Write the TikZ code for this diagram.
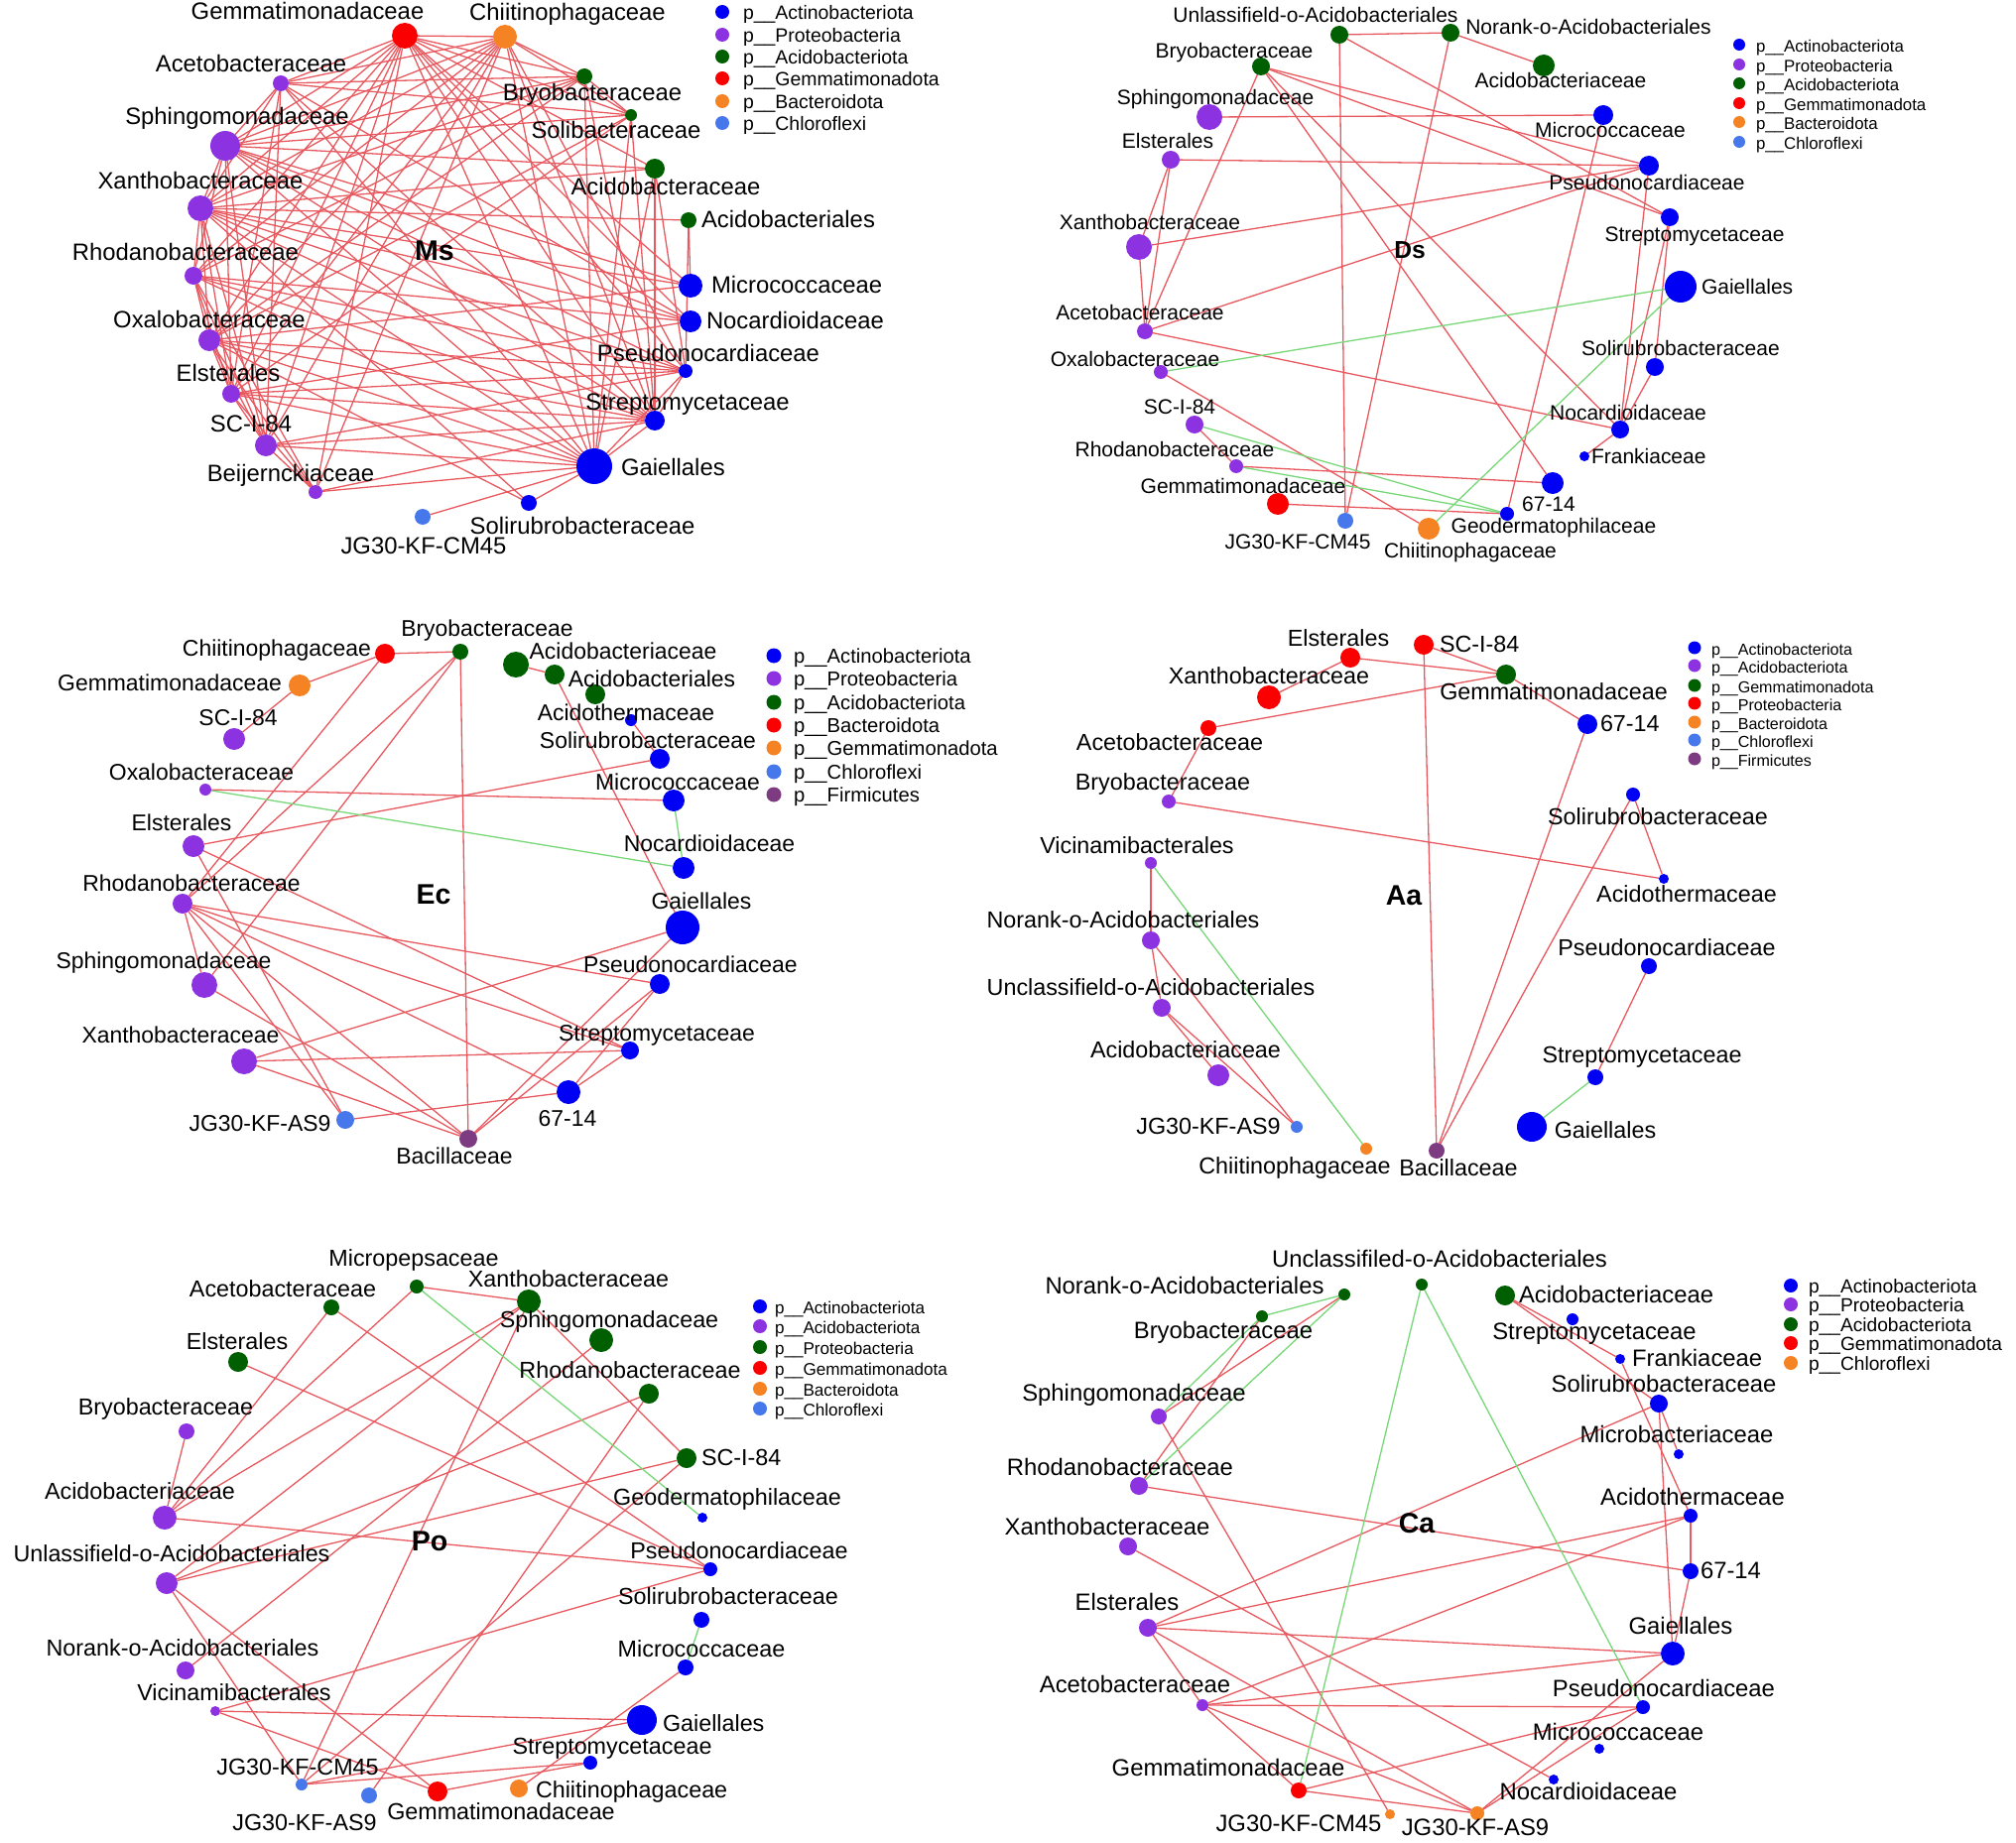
\documentclass[tikz,border=0pt]{standalone}
\usepackage{fontspec}
\setmainfont{Liberation Sans}
\pgfdeclarelayer{edges}
\pgfsetlayers{edges,main}
\definecolor{cAct}{RGB}{0,0,245}
\definecolor{cPro}{RGB}{140,50,225}
\definecolor{cAcd}{RGB}{0,95,0}
\definecolor{cGem}{RGB}{250,0,0}
\definecolor{cBac}{RGB}{245,130,35}
\definecolor{cChl}{RGB}{70,120,235}
\definecolor{cFir}{RGB}{125,60,130}
\definecolor{eRed}{RGB}{232,88,95}
\definecolor{eGrn}{RGB}{120,215,120}
\tikzset{
 nd/.style={circle, inner sep=0pt, outer sep=0pt, draw=none},
 rad/.style={minimum size=#1*0.771654pt},
 er/.style={draw=eRed, line width=0.5pt},
 eg/.style={draw=eGrn, line width=0.5pt},
 lbl/.style={inner sep=0pt, outer sep=0pt, text height=0.6em, text depth=0pt},
 fMs/.style={lbl, font=\fontsize{9.2}{11}\selectfont},
 fDs/.style={lbl, font=\fontsize{8.1}{10}\selectfont},
 fEc/.style={lbl, font=\fontsize{8.85}{10}\selectfont},
 fAa/.style={lbl, font=\fontsize{9.0}{10}\selectfont},
 fPo/.style={lbl, font=\fontsize{9.0}{10}\selectfont},
 fCa/.style={lbl, font=\fontsize{9.2}{11}\selectfont},
 gMs/.style={lbl, font=\fontsize{7.5}{9}\selectfont},
 gDs/.style={lbl, font=\fontsize{6.5}{8}\selectfont},
 gEc/.style={lbl, font=\fontsize{7.8}{9}\selectfont},
 gAa/.style={lbl, font=\fontsize{6.2}{8}\selectfont},
 gPo/.style={lbl, font=\fontsize{6.6}{8}\selectfont},
 gCa/.style={lbl, font=\fontsize{7.4}{9}\selectfont},
 ttl/.style={lbl, font=\fontsize{11}{13}\selectfont\bfseries},
}
\newcommand{\nn}[5]{\node[nd,fill=#4,rad=#5] (#1) at (#2,#3) {};}
\newcommand{\legitem}[8]{\node[nd,fill=#4,rad=#5] (#1) at (#2,#3) {};\node[#7,anchor=west] (#1-t) at (#6,#3) {#8};}
\begin{document}
\begin{tikzpicture}[x=0.385827pt, y=-0.385827pt]
\useasboundingbox (0,0) rectangle (2032,1858);
\begin{pgfonlayer}{edges}
\fill[white] (0,0) rectangle (2032,1858);
\end{pgfonlayer}

% ================= Ms =================
\nn{ms-gem}{408}{36}{cGem}{13}
\nn{ms-chi}{509}{37}{cBac}{12}
\nn{ms-ace}{283}{84}{cPro}{8}
\nn{ms-sph}{227}{147}{cPro}{15}
\nn{ms-xan}{202}{210}{cPro}{13}
\nn{ms-rho}{195}{278}{cPro}{9}
\nn{ms-oxa}{211}{343}{cPro}{11}
\nn{ms-els}{233}{397}{cPro}{9}
\nn{ms-sci}{268}{449}{cPro}{11}
\nn{ms-bei}{318}{496}{cPro}{7}
\nn{ms-jg}{426}{521}{cChl}{8}
\nn{ms-sol}{533}{507}{cAct}{8}
\nn{ms-gai}{599}{470}{cAct}{18}
\nn{ms-str}{660}{424}{cAct}{10}
\nn{ms-pse}{691}{374}{cAct}{7}
\nn{ms-noc}{696}{324}{cAct}{11}
\nn{ms-mic}{696}{288}{cAct}{12}
\nn{ms-acl}{694}{222}{cAcd}{8}
\nn{ms-acd}{660}{170}{cAcd}{10}
\nn{ms-slb}{636}{116}{cAcd}{6}
\nn{ms-bry}{589}{77}{cAcd}{8}
\node[fMs] (ms-gem-l) at (310,12) {Gemmatimonadaceae};
\node[fMs] (ms-chi-l) at (572,13) {Chiitinophagaceae};
\node[fMs] (ms-ace-l) at (253,65) {Acetobacteraceae};
\node[fMs] (ms-sph-l) at (239,118) {Sphingomonadaceae};
\node[fMs] (ms-xan-l) at (202,183) {Xanthobacteraceae};
\node[fMs] (ms-rho-l) at (187,255) {Rhodanobacteraceae};
\node[fMs] (ms-oxa-l) at (211,323) {Oxalobacteraceae};
\node[fMs] (ms-els-l) at (230,377) {Elsterales};
\node[fMs] (ms-sci-l) at (253,428) {SC-I-84};
\node[fMs] (ms-bei-l) at (293,478) {Beijernckiaceae};
\node[fMs] (ms-jg-l) at (427,551) {JG30-KF-CM45};
\node[fMs] (ms-sol-l) at (587,531) {Solirubrobacteraceae};
\node[fMs,anchor=west] (ms-gai-l) at (626,472) {Gaiellales};
\node[fMs] (ms-str-l) at (693,406) {Streptomycetaceae};
\node[fMs] (ms-pse-l) at (714,357) {Pseudonocardiaceae};
\node[fMs,anchor=west] (ms-noc-l) at (712,324) {Nocardioidaceae};
\node[fMs,anchor=west] (ms-mic-l) at (717,288) {Micrococcaceae};
\node[fMs,anchor=west] (ms-acl-l) at (707,222) {Acidobacteriales};
\node[fMs] (ms-acd-l) at (671,189) {Acidobacteraceae};
\node[fMs] (ms-slb-l) at (621,132) {Solibacteraceae};
\node[fMs] (ms-bry-l) at (597,94) {Bryobacteraceae};
\node[ttl] (ms-t) at (438,255) {Ms};
\legitem{ms-g1}{728}{12}{cAct}{7}{749}{gMs}{p\_\_Actinobacteriota}
\legitem{ms-g2}{728}{35}{cPro}{7}{749}{gMs}{p\_\_Proteobacteria}
\legitem{ms-g3}{728}{57}{cAcd}{7}{749}{gMs}{p\_\_Acidobacteriota}
\legitem{ms-g4}{728}{79}{cGem}{7}{749}{gMs}{p\_\_Gemmatimonadota}
\legitem{ms-g5}{728}{102}{cBac}{7}{749}{gMs}{p\_\_Bacteroidota}
\legitem{ms-g6}{728}{124}{cChl}{7}{749}{gMs}{p\_\_Chloroflexi}
\begin{pgfonlayer}{edges}
\foreach \a/\b in {gem/ace,gem/sph,gem/xan,gem/rho,gem/oxa,gem/els,gem/sci,gem/bei,gem/chi,gem/bry,gem/slb,gem/acd,gem/gai,gem/str,gem/pse,gem/noc,gem/mic,
 chi/ace,chi/sph,chi/xan,chi/rho,chi/oxa,chi/els,chi/sci,chi/bei,chi/bry,chi/slb,chi/gai,chi/str,chi/pse,
 ace/sph,ace/xan,ace/bry,ace/slb,ace/gai,ace/str,ace/noc,ace/els,ace/sci,
 sph/xan,sph/rho,sph/bry,sph/slb,sph/acd,sph/gai,sph/str,sph/pse,sph/noc,sph/mic,sph/els,sph/sci,
 xan/rho,xan/oxa,xan/els,xan/sci,xan/bry,xan/acd,xan/acl,xan/gai,xan/str,xan/pse,xan/noc,xan/mic,xan/sol,
 rho/oxa,rho/els,rho/sci,rho/bei,rho/bry,rho/gai,rho/str,rho/pse,rho/noc,
 oxa/els,oxa/sci,oxa/bei,oxa/bry,oxa/slb,oxa/gai,oxa/str,oxa/pse,oxa/mic,oxa/sol,
 els/sci,els/bei,els/gai,els/str,els/pse,els/noc,els/slb,
 sci/bei,sci/gai,sci/str,sci/pse,bei/gai,bei/str,jg/gai,sol/gai,
 gai/str,gai/pse,gai/bry,gai/slb,gai/acd,str/pse,str/bry,str/slb,str/acd,pse/acd,pse/acl,mic/acl,bry/slb}
 \draw[er] (ms-\a) -- (ms-\b);
\end{pgfonlayer}

% ================= Ds =================
\nn{ds-unl}{1350}{35}{cAcd}{9}
\nn{ds-nor}{1462}{33}{cAcd}{9}
\nn{ds-bry}{1271}{67}{cAcd}{9}
\nn{ds-aci}{1556}{66}{cAcd}{11}
\nn{ds-sph}{1219}{118}{cPro}{13}
\nn{ds-mic}{1616}{116}{cAct}{10}
\nn{ds-els}{1180}{161}{cPro}{9}
\nn{ds-pse}{1662}{167}{cAct}{10}
\nn{ds-str}{1683}{219}{cAct}{9}
\nn{ds-xan}{1148}{249}{cPro}{13}
\nn{ds-gai}{1694}{289}{cAct}{16}
\nn{ds-ace}{1154}{334}{cPro}{8}
\nn{ds-oxa}{1170}{375}{cPro}{7}
\nn{ds-sol}{1668}{370}{cAct}{9}
\nn{ds-sci}{1204}{428}{cPro}{9}
\nn{ds-noc}{1633}{433}{cAct}{9}
\nn{ds-rho}{1246}{470}{cPro}{7}
\nn{ds-fra}{1597}{460}{cAct}{5}
\nn{ds-gem}{1288}{508}{cGem}{11}
\nn{ds-67}{1565}{487}{cAct}{11}
\nn{ds-jg}{1356}{525}{cChl}{8}
\nn{ds-chi}{1440}{533}{cBac}{11}
\nn{ds-geo}{1519}{518}{cAct}{7}
\node[fDs] (ds-unl-l) at (1326,15) {Unlassifield-o-Acidobacteriales};
\node[fDs] (ds-nor-l) at (1601,27) {Norank-o-Acidobacteriales};
\node[fDs] (ds-bry-l) at (1244,51) {Bryobacteraceae};
\node[fDs] (ds-aci-l) at (1573,81) {Acidobacteriaceae};
\node[fDs] (ds-sph-l) at (1225,98) {Sphingomonadaceae};
\node[fDs] (ds-mic-l) at (1623,131) {Micrococcaceae};
\node[fDs] (ds-els-l) at (1177,142) {Elsterales};
\node[fDs] (ds-pse-l) at (1660,184) {Pseudonocardiaceae};
\node[fDs] (ds-str-l) at (1708,236) {Streptomycetaceae};
\node[fDs] (ds-xan-l) at (1159,224) {Xanthobacteraceae};
\node[fDs,anchor=west] (ds-gai-l) at (1715,289) {Gaiellales};
\node[fDs] (ds-ace-l) at (1149,315) {Acetobacteraceae};
\node[fDs] (ds-oxa-l) at (1144,362) {Oxalobacteraceae};
\node[fDs] (ds-sol-l) at (1694,351) {Solirubrobacteraceae};
\node[fDs] (ds-sci-l) at (1189,410) {SC-I-84};
\node[fDs] (ds-noc-l) at (1641,416) {Nocardioidaceae};
\node[fDs] (ds-rho-l) at (1184,453) {Rhodanobacteraceae};
\node[fDs,anchor=west] (ds-fra-l) at (1604,460) {Frankiaceae};
\node[fDs] (ds-gem-l) at (1253,490) {Gemmatimonadaceae};
\node[fDs] (ds-67-l) at (1561,508) {67-14};
\node[fDs] (ds-jg-l) at (1308,546) {JG30-KF-CM45};
\node[fDs] (ds-chi-l) at (1482,555) {Chiitinophagaceae};
\node[fDs] (ds-geo-l) at (1566,530) {Geodermatophilaceae};
\node[ttl,font=\fontsize{9.5}{11}\selectfont\bfseries] (ds-t) at (1421,253) {Ds};
\legitem{ds-g1}{1753}{45}{cAct}{6}{1770}{gDs}{p\_\_Actinobacteriota}
\legitem{ds-g2}{1753}{65}{cPro}{6}{1770}{gDs}{p\_\_Proteobacteria}
\legitem{ds-g3}{1753}{84}{cAcd}{6}{1770}{gDs}{p\_\_Acidobacteriota}
\legitem{ds-g4}{1753}{104}{cGem}{6}{1770}{gDs}{p\_\_Gemmatimonadota}
\legitem{ds-g5}{1753}{123}{cBac}{6}{1770}{gDs}{p\_\_Bacteroidota}
\legitem{ds-g6}{1753}{143}{cChl}{6}{1770}{gDs}{p\_\_Chloroflexi}
\begin{pgfonlayer}{edges}
\foreach \a/\b in {unl/nor,unl/jg,unl/str,nor/aci,nor/jg,bry/ace,bry/pse,bry/str,bry/noc,bry/67,sph/mic,els/pse,els/xan,els/ace,xan/ace,xan/pse,ace/pse,ace/noc,oxa/chi,sci/rho,rho/67,gem/geo,mic/geo,pse/noc,str/noc,str/sol,sol/noc,noc/fra}
 \draw[er] (ds-\a) -- (ds-\b);
\foreach \a/\b in {oxa/gai,sci/geo,rho/geo,chi/gai}
 \draw[eg] (ds-\a) -- (ds-\b);
\end{pgfonlayer}

% ================= Ec =================
\nn{ec-chi}{388}{659}{cGem}{10}
\nn{ec-bry}{464}{657}{cAcd}{8}
\nn{ec-gem}{302}{691}{cBac}{11}
\nn{ec-sci}{236}{745}{cPro}{11}
\nn{ec-oxa}{207}{796}{cPro}{6}
\nn{ec-els}{195}{853}{cPro}{11}
\nn{ec-rho}{184}{911}{cPro}{10}
\nn{ec-sph}{206}{993}{cPro}{13}
\nn{ec-xan}{246}{1070}{cPro}{13}
\nn{ec-jg}{348}{1129}{cChl}{9}
\nn{ec-bac}{472}{1148}{cFir}{9}
\nn{ec-acd}{520}{670}{cAcd}{13}
\nn{ec-acl}{559}{680}{cAcd}{10}
\nn{ec-ac3}{600}{700}{cAcd}{10}
\nn{ec-act}{636}{726}{cAct}{6}
\nn{ec-sol}{665}{765}{cAct}{10}
\nn{ec-mic}{679}{807}{cAct}{11}
\nn{ec-noc}{689}{875}{cAct}{11}
\nn{ec-gai}{688}{935}{cAct}{17}
\nn{ec-pse}{665}{992}{cAct}{10}
\nn{ec-str}{635}{1059}{cAct}{9}
\nn{ec-67}{573}{1101}{cAct}{12}
\node[fEc] (ec-chi-l) at (279,654) {Chiitinophagaceae};
\node[fEc] (ec-bry-l) at (491,634) {Bryobacteraceae};
\node[fEc] (ec-gem-l) at (171,689) {Gemmatimonadaceae};
\node[fEc] (ec-sci-l) at (240,724) {SC-I-84};
\node[fEc] (ec-oxa-l) at (203,779) {Oxalobacteraceae};
\node[fEc] (ec-els-l) at (183,830) {Elsterales};
\node[fEc] (ec-rho-l) at (193,891) {Rhodanobacteraceae};
\node[fEc] (ec-sph-l) at (165,969) {Sphingomonadaceae};
\node[fEc] (ec-xan-l) at (182,1044) {Xanthobacteraceae};
\node[fEc] (ec-jg-l) at (262,1133) {JG30-KF-AS9};
\node[fEc] (ec-bac-l) at (458,1166) {Bacillaceae};
\node[fEc] (ec-acd-l) at (628,657) {Acidobacteriaceae};
\node[fEc] (ec-acl-l) at (657,685) {Acidobacteriales};
\node[fEc] (ec-act-l) at (631,719) {Acidothermaceae};
\node[fEc] (ec-sol-l) at (653,747) {Solirubrobacteraceae};
\node[fEc] (ec-mic-l) at (683,789) {Micrococcaceae};
\node[fEc] (ec-noc-l) at (715,851) {Nocardioidaceae};
\node[fEc] (ec-gai-l) at (707,909) {Gaiellales};
\node[fEc] (ec-pse-l) at (696,973) {Pseudonocardiaceae};
\node[fEc] (ec-str-l) at (662,1042) {Streptomycetaceae};
\node[fEc] (ec-67-l) at (572,1128) {67-14};
\node[ttl] (ec-t) at (437,904) {Ec};
\legitem{ec-g1}{780}{661}{cAct}{7.5}{800}{gEc}{p\_\_Actinobacteriota}
\legitem{ec-g2}{780}{684}{cPro}{7.5}{800}{gEc}{p\_\_Proteobacteria}
\legitem{ec-g3}{780}{708}{cAcd}{7.5}{800}{gEc}{p\_\_Acidobacteriota}
\legitem{ec-g4}{780}{731}{cGem}{7.5}{800}{gEc}{p\_\_Bacteroidota}
\legitem{ec-g5}{780}{754}{cBac}{7.5}{800}{gEc}{p\_\_Gemmatimonadota}
\legitem{ec-g6}{780}{778}{cChl}{7.5}{800}{gEc}{p\_\_Chloroflexi}
\legitem{ec-g7}{780}{801}{cFir}{7.5}{800}{gEc}{p\_\_Firmicutes}
\begin{pgfonlayer}{edges}
\foreach \a/\b in {chi/bry,chi/gem,gem/sci,chi/rho,bry/rho,bry/sph,bry/bac,oxa/mic,els/sol,acl/gai,acd/acl,act/sol,els/str,els/jg,rho/pse,rho/str,rho/67,rho/bac,rho/jg,rho/sph,sph/bac,xan/str,xan/gai,xan/bac,jg/67,bac/pse,bac/gai,67/str,67/pse}
 \draw[er] (ec-\a) -- (ec-\b);
\foreach \a/\b in {oxa/noc,mic/noc}
 \draw[eg] (ec-\a) -- (ec-\b);
\end{pgfonlayer}

% ================= Aa =================
\nn{aa-els}{1361}{663}{cGem}{10}
\nn{aa-sci}{1435}{650}{cGem}{10}
\nn{aa-gem}{1518}{680}{cAcd}{10}
\nn{aa-xan}{1279}{703}{cGem}{12}
\nn{aa-ace}{1218}{734}{cGem}{8}
\nn{aa-67}{1600}{730}{cAct}{10}
\nn{aa-bry}{1178}{808}{cPro}{7}
\nn{aa-sol}{1646}{801}{cAct}{7}
\nn{aa-vic}{1160}{870}{cPro}{6}
\nn{aa-act}{1677}{886}{cAct}{5}
\nn{aa-nor}{1160}{948}{cPro}{9}
\nn{aa-pse}{1662}{974}{cAct}{8}
\nn{aa-unl}{1171}{1016}{cPro}{9}
\nn{aa-acd}{1228}{1084}{cPro}{11}
\nn{aa-str}{1608}{1086}{cAct}{8}
\nn{aa-jg}{1307}{1136}{cChl}{6}
\nn{aa-gai}{1544}{1136}{cAct}{15}
\nn{aa-chi}{1377}{1158}{cBac}{6}
\nn{aa-bac}{1448}{1160}{cFir}{8}
\node[fAa] (aa-els-l) at (1349,644) {Elsterales};
\node[fAa,anchor=west] (aa-sci-l) at (1451,650) {SC-I-84};
\node[fAa] (aa-gem-l) at (1566,698) {Gemmatimonadaceae};
\node[fAa] (aa-xan-l) at (1279,682) {Xanthobacteraceae};
\node[fAa] (aa-ace-l) at (1179,749) {Acetobacteraceae};
\node[fAa,anchor=west] (aa-67-l) at (1613,730) {67-14};
\node[fAa] (aa-bry-l) at (1172,789) {Bryobacteraceae};
\node[fAa] (aa-sol-l) at (1671,824) {Solirubrobacteraceae};
\node[fAa] (aa-vic-l) at (1146,853) {Vicinamibacterales};
\node[fAa] (aa-act-l) at (1700,902) {Acidothermaceae};
\node[fAa] (aa-nor-l) at (1132,928) {Norank-o-Acidobacteriales};
\node[fAa] (aa-pse-l) at (1680,956) {Pseudonocardiaceae};
\node[fAa] (aa-unl-l) at (1160,996) {Unclassifield-o-Acidobacteriales};
\node[fAa] (aa-acd-l) at (1195,1059) {Acidobacteriaceae};
\node[fAa] (aa-str-l) at (1655,1064) {Streptomycetaceae};
\node[fAa] (aa-jg-l) at (1218,1136) {JG30-KF-AS9};
\node[fAa] (aa-gai-l) at (1618,1140) {Gaiellales};
\node[fAa] (aa-chi-l) at (1305,1176) {Chiitinophagaceae};
\node[fAa] (aa-bac-l) at (1470,1178) {Bacillaceae};
\node[ttl] (aa-t) at (1415,905) {Aa};
\legitem{aa-g1}{1708}{653}{cAct}{6.5}{1725}{gAa}{p\_\_Actinobacteriota}
\legitem{aa-g2}{1708}{671}{cPro}{6.5}{1725}{gAa}{p\_\_Acidobacteriota}
\legitem{aa-g3}{1708}{691}{cAcd}{6.5}{1725}{gAa}{p\_\_Gemmatimonadota}
\legitem{aa-g4}{1708}{709}{cGem}{6.5}{1725}{gAa}{p\_\_Proteobacteria}
\legitem{aa-g5}{1708}{728}{cBac}{6.5}{1725}{gAa}{p\_\_Bacteroidota}
\legitem{aa-g6}{1708}{746}{cChl}{6.5}{1725}{gAa}{p\_\_Chloroflexi}
\legitem{aa-g7}{1708}{765}{cFir}{6.5}{1725}{gAa}{p\_\_Firmicutes}
\begin{pgfonlayer}{edges}
\foreach \a/\b in {els/xan,els/gem,sci/gem,sci/bac,gem/ace,gem/67,ace/bry,bry/act,act/sol,sol/bac,67/bac,pse/str,vic/nor,nor/unl,nor/jg,unl/acd,unl/jg}
 \draw[er] (aa-\a) -- (aa-\b);
\foreach \a/\b in {str/gai,vic/chi}
 \draw[eg] (aa-\a) -- (aa-\b);
\end{pgfonlayer}

% ================= Po =================
\nn{po-mpp}{420}{1297}{cAcd}{7}
\nn{po-ace}{334}{1318}{cAcd}{8}
\nn{po-xan}{533}{1312}{cAcd}{12}
\nn{po-sph}{606}{1351}{cAcd}{12}
\nn{po-els}{240}{1373}{cAcd}{10}
\nn{po-rho}{654}{1405}{cAcd}{10}
\nn{po-bry}{188}{1443}{cPro}{8}
\nn{po-sci}{692}{1470}{cAcd}{10}
\nn{po-acd}{166}{1530}{cPro}{12}
\nn{po-geo}{708}{1530}{cAct}{5}
\nn{po-unl}{168}{1596}{cPro}{11}
\nn{po-pse}{716}{1582}{cAct}{7}
\nn{po-sol}{707}{1633}{cAct}{8}
\nn{po-nor}{187}{1684}{cPro}{9}
\nn{po-mic}{691}{1681}{cAct}{8}
\nn{po-vic}{217}{1725}{cPro}{5}
\nn{po-gai}{647}{1734}{cAct}{15}
\nn{po-str}{595}{1777}{cAct}{7}
\nn{po-jgc}{304}{1799}{cChl}{6}
\nn{po-jga}{372}{1810}{cChl}{8}
\nn{po-gem}{441}{1806}{cGem}{10}
\nn{po-chi}{523}{1803}{cBac}{9}
\node[fPo] (po-mpp-l) at (417,1269) {Micropepsaceae};
\node[fPo] (po-ace-l) at (285,1300) {Acetobacteraceae};
\node[fPo] (po-xan-l) at (573,1290) {Xanthobacteraceae};
\node[fPo] (po-sph-l) at (614,1331) {Sphingomonadaceae};
\node[fPo] (po-els-l) at (239,1353) {Elsterales};
\node[fPo] (po-rho-l) at (635,1382) {Rhodanobacteraceae};
\node[fPo] (po-bry-l) at (167,1419) {Bryobacteraceae};
\node[fPo,anchor=west] (po-sci-l) at (707,1470) {SC-I-84};
\node[fPo] (po-acd-l) at (141,1504) {Acidobacteriaceae};
\node[fPo] (po-geo-l) at (733,1510) {Geodermatophilaceae};
\node[fPo] (po-unl-l) at (173,1567) {Unlassifield-o-Acidobacteriales};
\node[fPo] (po-pse-l) at (745,1564) {Pseudonocardiaceae};
\node[fPo] (po-sol-l) at (734,1610) {Solirubrobacteraceae};
\node[fPo] (po-nor-l) at (184,1662) {Norank-o-Acidobacteriales};
\node[fPo] (po-mic-l) at (707,1663) {Micrococcaceae};
\node[fPo] (po-vic-l) at (236,1707) {Vicinamibacterales};
\node[fPo,anchor=west] (po-gai-l) at (668,1738) {Gaiellales};
\node[fPo] (po-str-l) at (617,1761) {Streptomycetaceae};
\node[fPo] (po-jgc-l) at (300,1782) {JG30-KF-CM45};
\node[fPo] (po-jga-l) at (307,1838) {JG30-KF-AS9};
\node[fPo] (po-gem-l) at (505,1827) {Gemmatimonadaceae};
\node[fPo,anchor=west] (po-chi-l) at (540,1805) {Chiitinophagaceae};
\node[ttl] (po-t) at (433,1556) {Po};
\legitem{po-g1}{766}{1317}{cAct}{7}{781}{gPo}{p\_\_Actinobacteriota}
\legitem{po-g2}{766}{1337}{cPro}{7}{781}{gPo}{p\_\_Acidobacteriota}
\legitem{po-g3}{766}{1358}{cAcd}{7}{781}{gPo}{p\_\_Proteobacteria}
\legitem{po-g4}{766}{1379}{cGem}{7}{781}{gPo}{p\_\_Gemmatimonadota}
\legitem{po-g5}{766}{1400}{cBac}{7}{781}{gPo}{p\_\_Bacteroidota}
\legitem{po-g6}{766}{1420}{cChl}{7}{781}{gPo}{p\_\_Chloroflexi}
\begin{pgfonlayer}{edges}
\foreach \a/\b in {mpp/xan,mpp/acd,ace/acd,ace/pse,els/pse,bry/acd,acd/pse,acd/xan,unl/rho,unl/sci,unl/jgc,unl/gem,unl/xan,nor/sph,vic/gai,vic/gem,vic/pse,jgc/gai,jgc/str,jgc/xan,jgc/sci,jga/rho,xan/sci,chi/mic,gem/str}
 \draw[er] (po-\a) -- (po-\b);
\foreach \a/\b in {mpp/geo,sol/mic}
 \draw[eg] (po-\a) -- (po-\b);
\end{pgfonlayer}

% ================= Ca =================
\nn{ca-unc}{1433}{1295}{cAcd}{6}
\nn{ca-nor}{1355}{1305}{cAcd}{6}
\nn{ca-acd}{1517}{1306}{cAcd}{10}
\nn{ca-bry}{1272}{1327}{cAcd}{6}
\nn{ca-str}{1585}{1330}{cAct}{6}
\nn{ca-fra}{1633}{1370}{cAct}{5}
\nn{ca-sph}{1168}{1428}{cPro}{8}
\nn{ca-sol}{1672}{1415}{cAct}{9}
\nn{ca-mcb}{1692}{1466}{cAct}{5}
\nn{ca-rho}{1148}{1498}{cPro}{9}
\nn{ca-xan}{1137}{1559}{cPro}{9}
\nn{ca-act}{1704}{1528}{cAct}{7}
\nn{ca-67}{1704}{1584}{cAct}{8}
\nn{ca-els}{1157}{1641}{cPro}{9}
\nn{ca-gai}{1686}{1667}{cAct}{12}
\nn{ca-ace}{1212}{1719}{cPro}{6}
\nn{ca-pse}{1656}{1721}{cAct}{7}
\nn{ca-mic}{1612}{1763}{cAct}{5}
\nn{ca-gem}{1309}{1805}{cGem}{8}
\nn{ca-noc}{1566}{1794}{cAct}{5}
\nn{ca-jgc}{1401}{1829}{cBac}{5}
\nn{ca-jga}{1489}{1828}{cBac}{7}
\node[fCa] (ca-unc-l) at (1451,1270) {Unclassifiled-o-Acidobacteriales};
\node[fCa] (ca-nor-l) at (1194,1297) {Norank-o-Acidobacteriales};
\node[fCa,anchor=west] (ca-acd-l) at (1531,1306) {Acidobacteriaceae};
\node[fCa] (ca-bry-l) at (1233,1342) {Bryobacteraceae};
\node[fCa] (ca-str-l) at (1607,1343) {Streptomycetaceae};
\node[fCa,anchor=west] (ca-fra-l) at (1645,1370) {Frankiaceae};
\node[fCa] (ca-sph-l) at (1143,1405) {Sphingomonadaceae};
\node[fCa] (ca-sol-l) at (1677,1396) {Solirubrobacteraceae};
\node[fCa] (ca-mcb-l) at (1690,1447) {Microbacteriaceae};
\node[fCa] (ca-rho-l) at (1129,1480) {Rhodanobacteraceae};
\node[fCa] (ca-xan-l) at (1116,1540) {Xanthobacteraceae};
\node[fCa] (ca-act-l) at (1706,1510) {Acidothermaceae};
\node[fCa,anchor=west] (ca-67-l) at (1714,1584) {67-14};
\node[fCa] (ca-els-l) at (1136,1616) {Elsterales};
\node[fCa] (ca-gai-l) at (1694,1640) {Gaiellales};
\node[fCa] (ca-ace-l) at (1144,1699) {Acetobacteraceae};
\node[fCa] (ca-pse-l) at (1677,1703) {Pseudonocardiaceae};
\node[fCa] (ca-mic-l) at (1631,1747) {Micrococcaceae};
\node[fCa] (ca-gem-l) at (1238,1783) {Gemmatimonadaceae};
\node[fCa] (ca-noc-l) at (1601,1807) {Nocardioidaceae};
\node[fCa] (ca-jgc-l) at (1309,1839) {JG30-KF-CM45};
\node[fCa] (ca-jga-l) at (1487,1843) {JG30-KF-AS9};
\node[ttl] (ca-t) at (1428,1538) {Ca};
\legitem{ca-g1}{1805}{1296}{cAct}{7}{1823}{gCa}{p\_\_Actinobacteriota}
\legitem{ca-g2}{1805}{1315}{cPro}{7}{1823}{gCa}{p\_\_Proteobacteria}
\legitem{ca-g3}{1805}{1335}{cAcd}{7}{1823}{gCa}{p\_\_Acidobacteriota}
\legitem{ca-g4}{1805}{1354}{cGem}{7}{1823}{gCa}{p\_\_Gemmatimonadota}
\legitem{ca-g5}{1805}{1374}{cBac}{7}{1823}{gCa}{p\_\_Chloroflexi}
\begin{pgfonlayer}{edges}
\foreach \a/\b in {nor/sph,bry/rho,acd/fra,acd/sol,sol/mcb,sol/gai,fra/act,act/67,67/gai,sph/jgc,rho/67,xan/noc,els/sol,els/act,els/gai,els/jga,els/ace,ace/act,ace/gai,ace/pse,ace/jga,ace/gem,gem/pse,gem/jga,jga/pse,jga/gai}
 \draw[er] (ca-\a) -- (ca-\b);
\foreach \a/\b in {nor/bry,nor/rho,bry/sph,unc/gem,unc/pse}
 \draw[eg] (ca-\a) -- (ca-\b);
\end{pgfonlayer}
\end{tikzpicture}
\end{document}
